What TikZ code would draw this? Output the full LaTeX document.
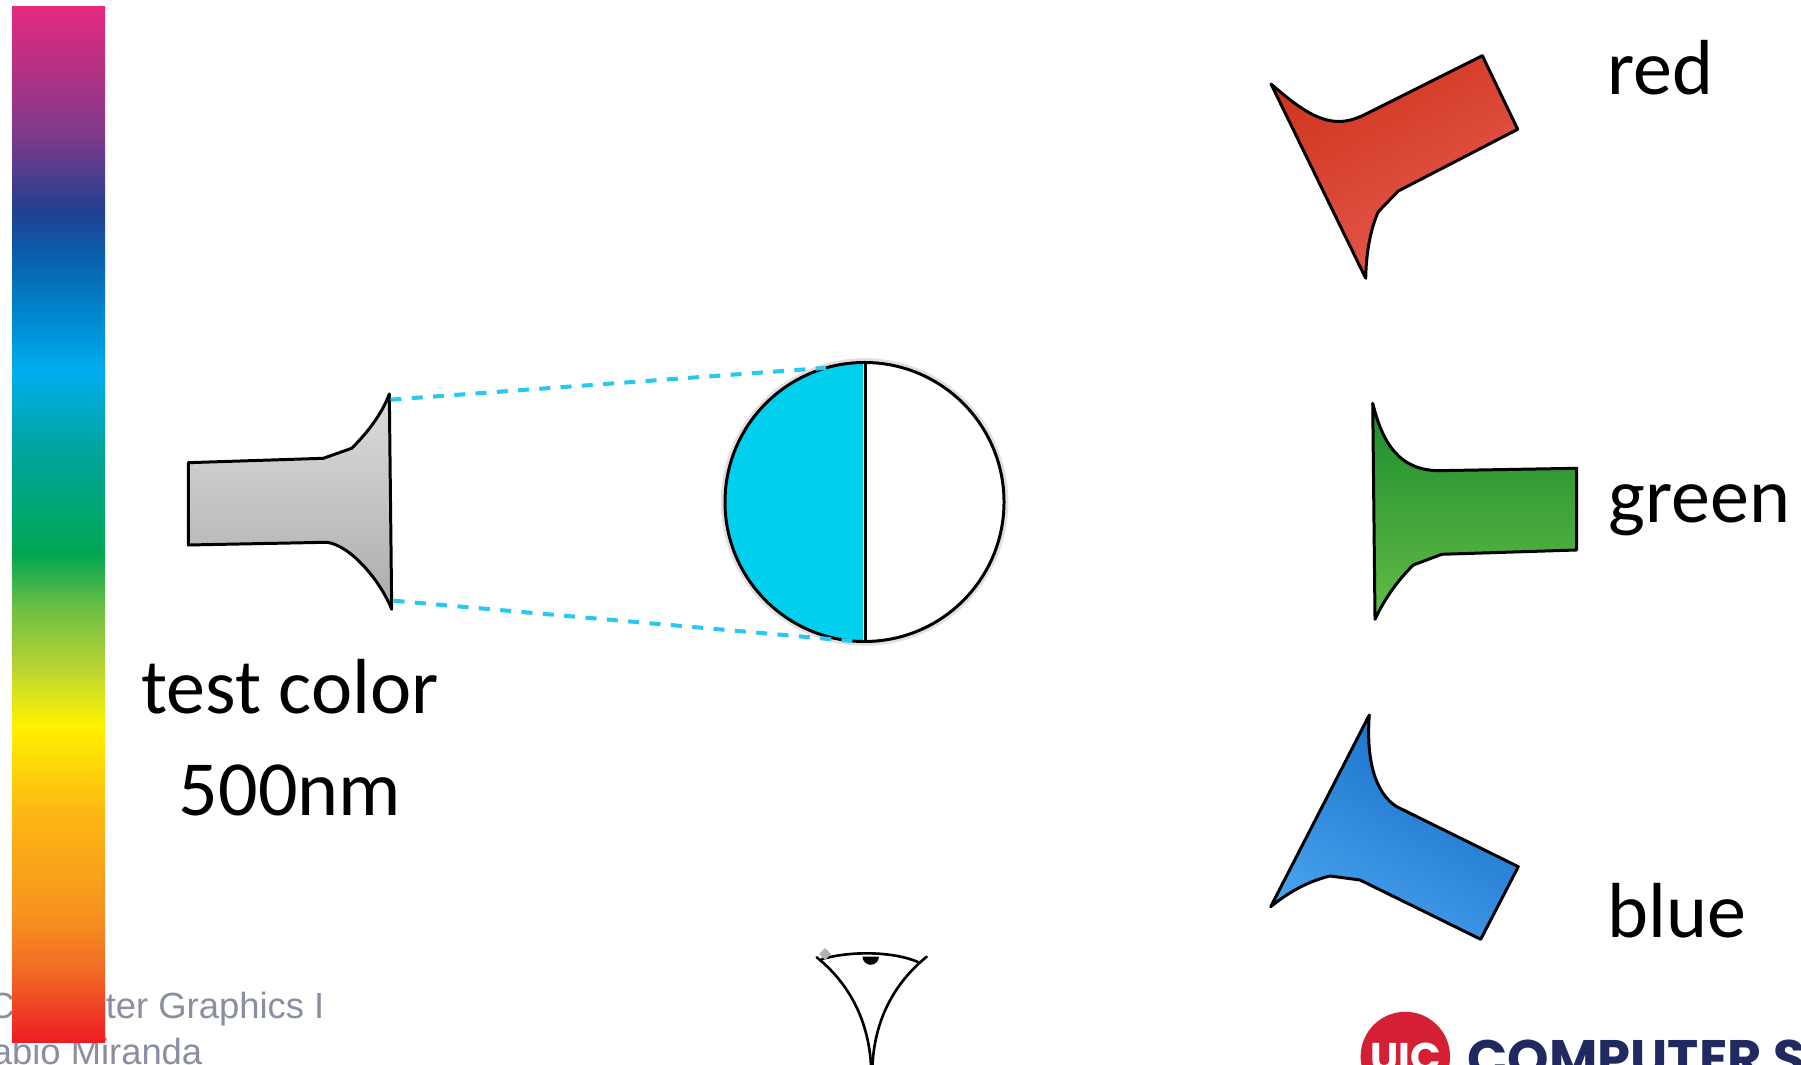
\documentclass[tikz,border=0pt]{standalone}
\usepackage{fontspec}
\newfontfamily\calib{Carlito}
\newfontfamily\helv{Liberation Sans}
\newfontfamily\logofont{Poppins}

% spectrum colours, top (violet end) to bottom (red end)
\definecolor{spA}{RGB}{229,41,125}
\definecolor{spB}{RGB}{126,58,138}
\definecolor{spC}{RGB}{36,63,144}
\definecolor{spD}{RGB}{11,91,168}
\definecolor{spE}{RGB}{0,136,207}
\definecolor{spF}{RGB}{0,174,239}
\definecolor{spG}{RGB}{0,165,168}
\definecolor{spH}{RGB}{0,166,81}
\definecolor{spI}{RGB}{107,191,68}
\definecolor{spJ}{RGB}{181,211,52}
\definecolor{spK}{RGB}{255,242,0}
\definecolor{spL}{RGB}{253,185,19}
\definecolor{spM}{RGB}{247,148,30}
\definecolor{spN}{RGB}{242,107,36}
\definecolor{spO}{RGB}{237,28,36}

\pgfdeclareverticalshading{spectrum}{100bp}{%
  color(0bp)=(spO); color(25bp)=(spO); color(28.5bp)=(spN);
  color(31.35bp)=(spM); color(36.25bp)=(spL); color(40.3bp)=(spK);
  color(43.25bp)=(spJ); color(46bp)=(spI); color(48.6bp)=(spH);
  color(54.15bp)=(spG); color(57.4bp)=(spF); color(60bp)=(spE);
  color(63.25bp)=(spD); color(65.25bp)=(spC); color(68.8bp)=(spB);
  color(75bp)=(spA); color(100bp)=(spA)}

\definecolor{sightcyan}{RGB}{41,200,238}
\definecolor{halfcyan}{RGB}{0,207,238}
\definecolor{footgray}{RGB}{137,142,160}
\definecolor{uicred}{RGB}{213,31,53}
\definecolor{uicnavy}{RGB}{32,41,96}

\begin{document}
\begin{tikzpicture}[x=0.01cm, y=-0.01cm,
  cone/.style={draw=black, line width=0.85pt, line join=round},
  sightline/.style={draw=sightcyan, line width=1.15pt},
  bigtext/.style={font=\calib\fontsize{22.2pt}{26pt}\selectfont, inner sep=0pt},
  foottext/.style={font=\helv\fontsize{10.35pt}{12pt}\selectfont, text=footgray, inner sep=0pt},
  eyeline/.style={draw=black, line width=0.75pt, line cap=round}]

\useasboundingbox (0,0) rectangle (1801,1065);

% footer lines, partly covered by the spectrum bar
\node[foottext, anchor=base east] (course) at (325,1018) {Computer Graphics I};
\node[foottext, anchor=base east] (author) at (203,1064) {Fabio Miranda};

% spectrum bar
\shade[shading=spectrum] (12,7) rectangle (105,1042);

% test lamp (grey horn)
\path[cone, top color={rgb,255:red,219;green,220;blue,221}, bottom color={rgb,255:red,170;green,172;blue,173}]
  (188.3,462.7) -- (323.3,458.3) -- (351.7,448.3)
  .. controls (366,434) and (381,416) .. (389.3,394)
  -- (391.7,609.3)
  .. controls (380,580) and (350,545) .. (326.7,542.3)
  -- (188.3,545) -- cycle;
\coordinate (hornTop) at (390.5,399.7);
\coordinate (hornBot) at (393.5,600.7);

% split comparison field
\node[circle, minimum size=2.79cm, inner sep=0pt, outer sep=0pt] (disc) at (864.5,502) {};
\draw[black!12, line width=1.3pt] (disc.center) circle[radius=141.5];
\fill[white] (disc.center) circle[radius=139.5];
\begin{scope}
  \clip (disc.center) circle[radius=139.5];
  \fill[halfcyan] (700,340) rectangle (862.6,660);
\end{scope}
\draw[line width=0.85pt] (865.8,363) -- (865.8,641);
\draw[line width=0.85pt] (disc.center) circle[radius=139.5];

% sight lines from the lamp mouth to the field edge
\draw[sightline, dash pattern=on 3.13pt off 2.93pt] (hornTop) -- (disc.106);
\draw[sightline, dash pattern=on 3.13pt off 2.96pt] (hornBot) -- (disc.-95);

% red primary lamp
\path[cone, top color={rgb,255:red,207;green,54;blue,30}, bottom color={rgb,255:red,230;green,90;blue,80}, shading angle=30]
  (1271,84) .. controls (1292,102) and (1315,122) .. (1340,121.5)
  .. controls (1350,121) and (1356,118.5) .. (1364,115)
  -- (1482.3,55.7) -- (1517.7,129.3) -- (1398.3,191) -- (1378.3,211.7)
  .. controls (1370,230) and (1366,255) .. (1365.7,278.3) -- cycle;

% green primary lamp
\path[cone, top color={rgb,255:red,27;green,140;blue,45}, bottom color={rgb,255:red,100;green,188;blue,70}]
  (1372.7,403.3) .. controls (1383,445) and (1400,470) .. (1438.3,470.7)
  -- (1576.7,468.3) -- (1576.7,550) -- (1441.7,554.3) -- (1413.3,565)
  .. controls (1398,580) and (1385,598) .. (1375,619.3) -- cycle;

% blue primary lamp
\path[cone, top color={rgb,255:red,22;green,108;blue,198}, bottom color={rgb,255:red,72;green,162;blue,238}, shading angle=-30]
  (1369.3,715) .. controls (1366,760) and (1375,793) .. (1396.7,806.7)
  -- (1518.3,866.7) -- (1480.7,939.3) -- (1360,880) -- (1330,876)
  .. controls (1305,882) and (1285,895) .. (1270.7,906.7) -- cycle;

% labels
\node[bigtext, anchor=base west] (red) at (1607,95) {red};
\node[bigtext, anchor=base west] (green) at (1608,523) {green};
\node[bigtext, anchor=base west] (blue) at (1607,937) {blue};
\node[bigtext, anchor=base] (testcolor) at (290,714) {test color};
\node[bigtext, anchor=base] (wavelength) at (290,815.5) {500nm};

% observer's eye
\draw[eyeline] (816.7,957.3) .. controls (845,980) and (868,1015) .. (871,1065);
\draw[eyeline] (926.7,956.7) .. controls (898,980) and (875,1015) .. (872.5,1065);
\draw[eyeline] (822,959) .. controls (850,951) and (892,951) .. (918,962);
\fill (879,956.5) arc[start angle=0, end angle=180, radius=8.3] -- cycle;
\fill[gray!60] (825,948) -- (831,954) -- (825,960) -- (819,954) -- cycle;

% department logo
\fill[uicred] (1405.3,1056.5) circle[radius=44.7];
\node[font=\logofont\bfseries\fontsize{11.4pt}{13pt}\selectfont, text=white, inner sep=0pt, anchor=base] (uic) at (1405.3,1071) {UIC};
\node[font=\logofont\bfseries\fontsize{15pt}{18pt}\selectfont, text=uicnavy, inner sep=0pt, anchor=base west] (dept) at (1467,1077) {COMPUTER S};

\end{tikzpicture}
\end{document}
